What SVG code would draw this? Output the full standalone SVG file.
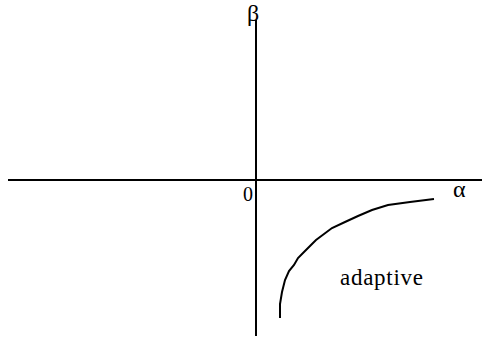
<svg xmlns="http://www.w3.org/2000/svg" width="495" height="339" viewBox="0 0 495 339">
<style>
.ax{stroke:#000;stroke-width:2;fill:none}
.t{font-family:"Liberation Serif","Times New Roman",serif;fill:#000}
</style>
<rect width="495" height="339" fill="#fff"/>
<g id="axes">
<line id="x-axis" class="ax" x1="8" y1="180" x2="482" y2="180"/>
<line id="y-axis" class="ax" x1="256" y1="20" x2="256" y2="336"/>
</g>
<g id="curve">
<path class="ax" d="M280,318 L280,304 L282,292 L285,280 L289,271 L294,265 L298,258 L304,252 L310,246 L316,240 L324,234 L332,228 L345,222 L358,216 L372,210 L388,205 L410,202 L434,199"/>
</g>
<g id="labels">
<text class="t" x="247" y="21" font-size="24">β</text>
<text class="t" x="243" y="201" font-size="20">0</text>
<text class="t" x="453" y="197" font-size="24">α</text>
<text class="t" x="340" y="285" font-size="23" textLength="83" lengthAdjust="spacing">adaptive</text>
</g>
</svg>
